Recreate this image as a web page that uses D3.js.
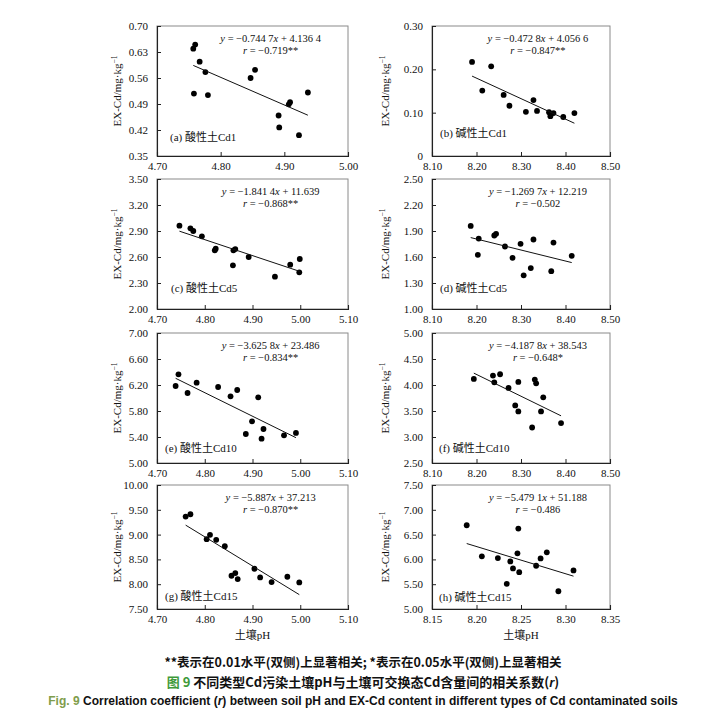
<!DOCTYPE html>
<html><head><meta charset="utf-8">
<script src="https://cdn.jsdelivr.net/npm/d3@7"></script>
<style>body{margin:0;background:#fff}</style>
</head><body><svg id="c" width="726" height="723"></svg>
<script>
// ---------- data ----------
const panelLabels = ['(a) 酸性土Cd1','(b) 碱性土Cd1','(c) 酸性土Cd5','(d) 碱性土Cd5',
  '(e) 酸性土Cd10','(f) 碱性土Cd10','(g) 酸性土Cd15','(h) 碱性土Cd15'];

const pH_a = [4.757,4.760,4.767,4.776,4.758,4.780,4.847,4.854,4.891,4.892,4.907,4.909,4.923,4.937];
const cd_a = [0.639,0.650,0.604,0.576,0.518,0.514,0.560,0.582,0.459,0.427,0.489,0.495,0.406,0.521];
const pH_b = [8.190,8.233,8.213,8.261,8.274,8.311,8.328,8.336,8.363,8.366,8.373,8.395,8.420];
const cd_b = [0.217,0.207,0.151,0.141,0.116,0.102,0.129,0.104,0.101,0.092,0.099,0.090,0.099];
const pH_c = [4.747,4.770,4.776,4.794,4.821,4.823,4.859,4.860,4.864,4.892,4.947,4.979,4.998,4.999];
const cd_c = [2.962,2.931,2.900,2.838,2.677,2.696,2.504,2.677,2.692,2.600,2.373,2.512,2.423,2.577];
const pH_d = [8.187,8.205,8.203,8.240,8.244,8.264,8.281,8.299,8.306,8.322,8.328,8.368,8.373,8.414];
const cd_d = [1.959,1.813,1.625,1.848,1.867,1.721,1.591,1.752,1.388,1.472,1.802,1.436,1.767,1.614];
const pH_e = [4.739,4.745,4.764,4.783,4.828,4.854,4.868,4.886,4.899,4.912,4.919,4.923,4.966,4.991];
const cd_e = [6.185,6.364,6.077,6.236,6.169,6.026,6.123,5.446,5.641,6.010,5.374,5.523,5.426,5.462];
const pH_f = [8.194,8.237,8.240,8.253,8.272,8.287,8.294,8.294,8.325,8.331,8.334,8.345,8.350,8.390];
const cd_f = [4.117,4.181,4.052,4.207,3.943,3.608,4.059,3.492,3.183,4.104,4.033,3.492,3.763,3.267];
const pH_g = [4.760,4.770,4.804,4.811,4.824,4.842,4.856,4.864,4.869,4.904,4.916,4.940,4.973,4.998];
const cd_g = [9.363,9.410,8.907,8.995,8.894,8.767,8.170,8.224,8.103,8.311,8.137,8.043,8.150,8.036];
const pH_h = [8.189,8.206,8.224,8.234,8.238,8.241,8.246,8.247,8.248,8.267,8.272,8.279,8.292,8.309];
const cd_h = [6.689,6.061,6.027,5.507,5.959,5.818,6.122,6.622,5.743,5.872,6.020,6.142,5.358,5.777];

const slopes = [-0.7447,-0.4728,-1.8414,-1.2697,-3.6258,-4.1878,-5.887,-5.4791];
const intercepts = [4.1364,4.0566,11.639,12.219,23.486,38.543,37.213,51.188];
const slopeText = ['0.744 7','0.472 8','1.841 4','1.269 7','3.625 8','4.187 8','5.887','5.479 1'];
const interceptText = ['4.136 4','4.056 6','11.639','12.219','23.486','38.543','37.213','51.188'];
const rText = ['−0.719**','−0.847**','−0.868**','−0.502','−0.834**','−0.648*','−0.870**','−0.486'];

const xTicks_a = [4.70,4.80,4.90,5.00];
const xTicks_acid = [4.70,4.80,4.90,5.00,5.10];
const xTicks_alk = [8.10,8.20,8.30,8.40,8.50];
const xTicks_h = [8.15,8.20,8.25,8.30,8.35];
const yTicks_a = [0.35,0.42,0.49,0.56,0.63,0.70];
const yTicks_b = [0,0.10,0.20,0.30];
const yTicks_c = [2.00,2.30,2.60,2.90,3.20,3.50];
const yTicks_d = [1.00,1.30,1.60,1.90,2.20,2.50];
const yTicks_e = [5.00,5.40,5.80,6.20,6.60,7.00];
const yTicks_f = [2.50,3.00,3.50,4.00,4.50,5.00];
const yTicks_g = [7.50,8.00,8.50,9.00,9.50,10.00];
const yTicks_h = [5.00,5.50,6.00,6.50,7.00,7.50];

const yLabelText = 'EX-Cd/mg·kg';
const xLabelText = '土壤pH';
const note = '**表示在0.01水平(双侧)上显著相关; *表示在0.05水平(双侧)上显著相关';
const figCn = '图 9';
const titleCn = ' 不同类型Cd污染土壤pH与土壤可交换态Cd含量间的相关系数(';
const figEn = 'Fig. 9';
const titleEn = ' Correlation coefficient (';
const titleEn2 = ') between soil pH and EX-Cd content in different types of Cd contaminated soils';

// ---------- layout ----------
const xs = [pH_a,pH_b,pH_c,pH_d,pH_e,pH_f,pH_g,pH_h];
const ys = [cd_a,cd_b,cd_c,cd_d,cd_e,cd_f,cd_g,cd_h];
const xTickSets = [xTicks_a,xTicks_alk,xTicks_acid,xTicks_alk,xTicks_acid,xTicks_alk,xTicks_acid,xTicks_h];
const yTickSets = [yTicks_a,yTicks_b,yTicks_c,yTicks_d,yTicks_e,yTicks_f,yTicks_g,yTicks_h];
const cols = [[157,348],[432,610]];
const rows = [[26,156],[179,309],[333,463],[485,609]];
const labelOff = [[13,15],[8,19],[14,17],[8,17],[8,11],[7,11],[8,9],[7,8]];

const serif = "'Liberation Serif','Times New Roman','Noto Sans CJK SC',serif";
const svg = d3.select('#c');
svg.append('rect').attr('width',726).attr('height',723).attr('fill','#fff');

for (let i = 0; i < 8; i++) {
  const [x0,x1] = cols[i % 2];
  const [y0,y1] = rows[Math.floor(i / 2)];
  const xt = xTickSets[i], yt = yTickSets[i];
  const x = d3.scaleLinear().domain([xt[0], xt[xt.length-1]]).range([x0,x1]);
  const y = d3.scaleLinear().domain([yt[0], yt[yt.length-1]]).range([y1,y0]);
  const g = svg.append('g');

  g.append('rect').attr('x',x0).attr('y',y0).attr('width',x1-x0).attr('height',y1-y0)
    .attr('fill','none').attr('stroke','#8a8a8a').attr('stroke-width',1);

  const fmt = v => v === 0 ? '0' : d3.format('.2f')(v);
  const ax = g.append('g').attr('transform',`translate(0,${y1})`)
    .call(d3.axisBottom(x).tickValues(xt).tickSize(-4).tickPadding(6).tickFormat(d3.format('.2f')));
  const ay = g.append('g').attr('transform',`translate(${x0},0)`)
    .call(d3.axisLeft(y).tickValues(yt).tickSize(-4).tickPadding(9).tickFormat(fmt));
  [ax, ay].forEach(a => {
    a.select('.domain').attr('stroke','#222').attr('stroke-width',1.1);
    a.selectAll('.tick line').attr('stroke','#222');
    a.selectAll('.tick text').attr('font-family',serif).attr('font-size',11).attr('fill','#111');
  });

  // points
  g.selectAll('circle.p').data(d3.zip(xs[i], ys[i])).join('circle')
    .attr('cx', d => x(d[0])).attr('cy', d => y(d[1])).attr('r', 2.9).attr('fill','#000');

  // trend line from regression
  const ext = d3.extent(xs[i]);
  g.append('line')
    .attr('x1', x(ext[0])).attr('y1', y(slopes[i]*ext[0] + intercepts[i]))
    .attr('x2', x(ext[1])).attr('y2', y(slopes[i]*ext[1] + intercepts[i]))
    .attr('stroke','#111').attr('stroke-width',1);

  // equation
  const cx = x0 + (x1 - x0) * 0.595;
  const t1 = g.append('text').attr('x',cx).attr('y',y0+16).attr('text-anchor','middle')
    .attr('font-family',serif).attr('font-size',10.5).attr('fill','#111');
  t1.append('tspan').attr('font-style','italic').text('y');
  t1.append('tspan').text(' = −' + slopeText[i]);
  t1.append('tspan').attr('font-style','italic').text('x');
  t1.append('tspan').text(' + ' + interceptText[i]);
  const t2 = g.append('text').attr('x',cx).attr('y',y0+28).attr('text-anchor','middle')
    .attr('font-family',serif).attr('font-size',10.5).attr('fill','#111');
  t2.append('tspan').attr('font-style','italic').text('r');
  t2.append('tspan').text(' = ' + rText[i]);

  // panel label
  g.append('text').attr('x', x0 + labelOff[i][0]).attr('y', y1 - labelOff[i][1])
    .attr('font-family',serif).attr('font-size',11).attr('fill','#111').text(panelLabels[i]);

  // y label
  const lx = (i % 2 === 0) ? 117 : 385;
  const yl = g.append('text').attr('transform',`translate(${lx + 4},${(y0+y1)/2}) rotate(-90)`)
    .attr('text-anchor','middle').attr('font-family',serif).attr('font-size',11).attr('fill','#111');
  yl.append('tspan').text(yLabelText);
  yl.append('tspan').attr('font-size',7.5).attr('dy',-4).text('−1');

  if (i >= 6) {
    g.append('text').attr('x',(x0+x1)/2).attr('y',639).attr('text-anchor','middle')
      .attr('font-family',serif).attr('font-size',11).attr('fill','#111').text(xLabelText);
  }
}

// ---------- caption ----------
const sansCn = "'Noto Sans CJK SC','Liberation Sans',sans-serif";
svg.append('text').attr('x',363).attr('y',667).attr('text-anchor','middle')
  .attr('font-family',sansCn).attr('font-weight','bold').attr('font-size',12.5).attr('fill','#111')
  .text(note);
const c2 = svg.append('text').attr('x',363).attr('y',687).attr('text-anchor','middle')
  .attr('font-family',sansCn).attr('font-weight','bold').attr('font-size',13).attr('fill','#111');
c2.append('tspan').attr('fill','#3f9a3a').text(figCn);
c2.append('tspan').text(titleCn);
c2.append('tspan').attr('font-style','italic').attr('font-family',"'Liberation Sans',sans-serif").text('r');
c2.append('tspan').text(')');
const c3 = svg.append('text').attr('x',363).attr('y',705).attr('text-anchor','middle')
  .attr('font-family',"'Liberation Sans',Arial,sans-serif").attr('font-weight','bold').attr('font-size',12).attr('fill','#111');
c3.append('tspan').attr('fill','#7f9d4c').text(figEn);
c3.append('tspan').text(titleEn);
c3.append('tspan').attr('font-style','italic').text('r');
c3.append('tspan').text(titleEn2);
</script></body></html>
